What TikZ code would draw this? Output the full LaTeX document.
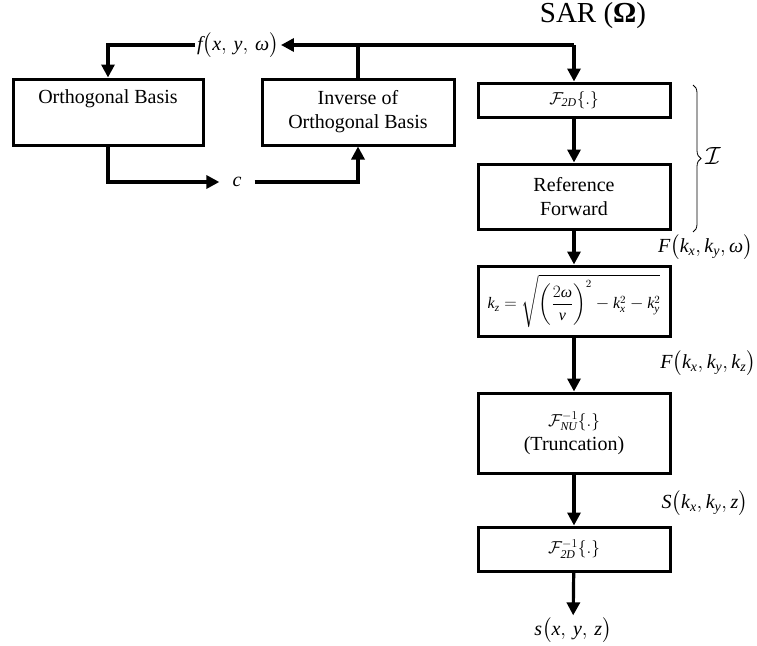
\documentclass[tikz,border=0pt]{standalone}
\usepackage{amsmath}
\usepackage{fontspec}
\setmainfont{Liberation Serif}
\usetikzlibrary{arrows.meta,decorations.pathreplacing}
\newcommand{\mi}[1]{\mathit{#1}}
\newcommand{\om}{\text{\itshape ω}}
\newcommand{\nuu}{\text{\itshape ν}}
\begin{document}
\begin{tikzpicture}[x=1pt,y=-1pt,
  box/.style={draw,line width=3pt,rectangle,minimum width=192pt,inner sep=0pt,align=center,font=\fontsize{20}{24}\selectfont},
  conn/.style={line width=3.2pt},
  arr/.style={conn,-{Triangle[length=13pt,width=13pt]}},
  lbl/.style={font=\fontsize{20}{24}\selectfont,inner sep=2pt}]
\useasboundingbox (0,0) rectangle (757,645);

\node[box,minimum width=190pt,minimum height=66pt] (ob) at (108,112) {Orthogonal Basis\\\strut};
\node[box,minimum height=66pt] (inv) at (358,112) {Inverse of\\Orthogonal Basis};
\node[box,minimum height=34pt,font=\fontsize{17}{20}\selectfont] (f2d) at (574,100) {$\mathcal{F}_{\mi{2D}}\{.\}$};
\node[box,minimum height=65pt] (ref) at (574,196.5) {Reference\\Forward};
\node[box,minimum height=70pt,font=\fontsize{16}{18}\selectfont] (kz) at (574,301) {$\displaystyle \mi{k}_{\mi{z}}=\sqrt{\left(\frac{2\om}{\nuu}\right)^{2}-\mi{k}_{\mi{x}}^{2}-\mi{k}_{\mi{y}}^{2}}$};
\node[box,minimum height=80pt] (nu) at (574,433) {{\fontsize{17}{20}\selectfont$\mathcal{F}_{\mi{NU}}^{-1}\{.\}$}\\(Truncation)};
\node[box,minimum height=44pt,font=\fontsize{17}{20}\selectfont] (f2di) at (574,549) {$\mathcal{F}_{\mi{2D}}^{-1}\{.\}$};

\node[font=\fontsize{29}{33}\selectfont] (sar) at (593,16) {SAR (\textbf{Ω})};
\node[lbl] (f) at (238,45) {$\mi{f}\bigl(\mi{x},\,\mi{y},\,\om\bigr)$};
\node[lbl,inner xsep=13pt] (c) at (237,182) {$\mi{c}$};
\node[lbl,anchor=east,inner sep=0pt] (Fo) at (753,247) {$\mi{F}\bigl(\mi{k}_{\mi{x}},\mi{k}_{\mi{y}},\om\bigr)$};
\node[lbl,anchor=east,inner sep=0pt] (Fz) at (756,363) {$\mi{F}\bigl(\mi{k}_{\mi{x}},\mi{k}_{\mi{y}},\mi{k}_{\mi{z}}\bigr)$};
\node[lbl,anchor=east,inner sep=0pt] (Sk) at (748,503) {$\mi{S}\bigl(\mi{k}_{\mi{x}},\mi{k}_{\mi{y}},\mi{z}\bigr)$};
\node[lbl] (s) at (573,630) {$\mi{s}\bigl(\mi{x},\,\mi{y},\,\mi{z}\bigr)$};
\node[font=\fontsize{24}{28}\selectfont] (I) at (713,156) {$\mathcal{I}$};

\coordinate (j) at (574,45);
\draw[arr] (j) -- (f.east);
\draw[arr] (j) -- (f2d.north);
\draw[conn] (inv.north) -- (inv.north |- j);
\draw[arr] (f.west) -| (ob.north);
\draw[arr] (ob.south) |- (c.west);
\draw[arr] (c.east) -| (inv.south);
\draw[arr] (f2d) -- (ref);
\draw[arr] (ref) -- (kz);
\draw[arr] (kz) -- (nu);
\draw[arr] (nu) -- (f2di);
\draw[arr] (f2di) -- (s);
\draw[line width=0.8pt,decorate,decoration={brace,amplitude=8pt}] (693,85) -- (693,232);
\end{tikzpicture}
\end{document}
